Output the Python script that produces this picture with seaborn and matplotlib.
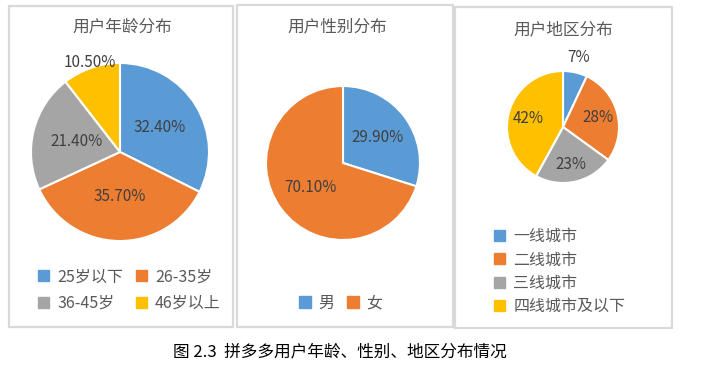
import matplotlib
matplotlib.use("Agg")
import matplotlib.pyplot as plt
import seaborn as sns
from matplotlib.patches import Rectangle, Patch
import numpy as np

# data
age_labels = ["25岁以下", "26-35岁", "36-45岁", "46岁以上"]
age_values = [32.4, 35.7, 21.4, 10.5]
age_text = ["32.40%", "35.70%", "21.40%", "10.50%"]

gender_labels = ["男", "女"]
gender_values = [29.9, 70.1]
gender_text = ["29.90%", "70.10%"]

region_labels = ["一线城市", "二线城市", "三线城市", "四线城市及以下"]
region_values = [7, 28, 23, 42]
region_text = ["7%", "28%", "23%", "42%"]

titles = ["用户年龄分布", "用户性别分布", "用户地区分布"]
caption = "图 2.3  拼多多用户年龄、性别、地区分布情况"

sns.set_theme(style="white")
plt.rcParams["font.family"] = ["Noto Sans CJK SC", "DejaVu Sans"]
colors = sns.color_palette(["#5B9BD5", "#ED7D31", "#A5A5A5", "#FFC000"])

W, H = 713, 370
fig = plt.figure(figsize=(W / 100, H / 100), dpi=100)


def fx(x):
    return x / W


def fy(y):
    return 1 - y / H


def border(x0, y0, x1, y1):
    fig.patches.append(Rectangle((fx(x0), fy(y1)), fx(x1) - fx(x0), fy(y0) - fy(y1),
                                 transform=fig.transFigure, fill=False,
                                 edgecolor="#d9d9d9", linewidth=1.6))


def draw_pie(cx, cy, r, values, texts, dists):
    ax = fig.add_axes([fx(cx - r), fy(cy + r), 2 * r / W, 2 * r / H])
    wedges, _ = ax.pie(values, colors=colors[:len(values)], startangle=90,
                       counterclock=False,
                       wedgeprops=dict(edgecolor="white", linewidth=1.5))
    for w, t, d in zip(wedges, texts, dists):
        ang = np.deg2rad((w.theta1 + w.theta2) / 2)
        ax.text(d * np.cos(ang), d * np.sin(ang), t, ha="center", va="center",
                fontsize=11, color="#404040")
    ax.set_xlim(-1, 1)
    ax.set_ylim(-1, 1)
    ax.set_aspect("equal")
    return ax, wedges


border(9, 6, 233, 327)
border(237, 5, 453, 327)
border(455, 7, 672, 328)

ax1, w1 = draw_pie(120, 152, 89, age_values, age_text, [0.53, 0.5, 0.5, 1.06])
ax2, w2 = draw_pie(343, 163, 77, gender_values, gender_text, [0.55, 0.53])
ax3, w3 = draw_pie(563, 127, 56, region_values, region_text, [1.28, 0.65, 0.69, 0.64])

for x, y, t in [(122, 27, titles[0]), (337, 27, titles[1]), (563, 30, titles[2])]:
    fig.text(fx(x), fy(y), t, ha="center", va="center", fontsize=12, color="#595959")

leg_kw = dict(frameon=False, fontsize=11.5, labelcolor="#595959", handlelength=0.7,
              handleheight=0.7, handletextpad=0.5, borderaxespad=0, borderpad=0)

# legend fills column-wise, reorder so it reads row by row
order = [0, 2, 1, 3]
h1 = [Patch(color=colors[i]) for i in order]
fig.legend(h1, [age_labels[i] for i in order], ncol=2, loc="center left",
           bbox_to_anchor=(fx(38), fy(290)), columnspacing=0.8, labelspacing=0.6, **leg_kw)
h2 = [Patch(color=c) for c in colors[:2]]
fig.legend(h2, gender_labels, ncol=2, loc="center", bbox_to_anchor=(fx(341), fy(303)),
           columnspacing=0.8, **leg_kw)
h3 = [Patch(color=c) for c in colors[:4]]
fig.legend(h3, region_labels, ncol=1, loc="upper left", bbox_to_anchor=(fx(494), fy(228)),
           labelspacing=0.4, **leg_kw)

fig.text(fx(340), fy(352), caption, ha="center", va="center", fontsize=12, color="black")

fig.savefig("out.png", dpi=100)
